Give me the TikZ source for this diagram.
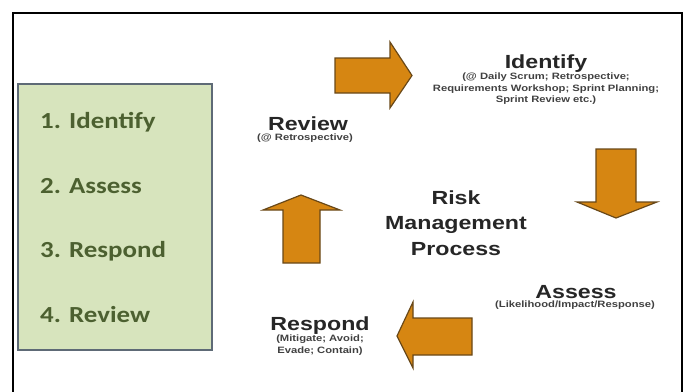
\documentclass[tikz,border=0pt]{standalone}
\usepackage{fontspec}
\usepackage{tikz}
\usetikzlibrary{positioning}
\setmainfont{Liberation Sans}
\newfontfamily\stepsfont[FakeStretch=1.17]{Carlito}
\newfontfamily\cyclefont[FakeStretch=1.22]{Liberation Sans}
\definecolor{stepfill}{RGB}{215, 228, 189}
\definecolor{stepborder}{RGB}{94, 106, 118}
\definecolor{stepgreen}{RGB}{76, 96, 48}
\definecolor{arroworange}{RGB}{214, 134, 18}
\definecolor{arrowbrown}{RGB}{105, 72, 24}

\begin{document}
\begin{tikzpicture}[x=1pt,y=-1pt,
    steptext/.style={font=\stepsfont\bfseries\fontsize{23}{23}\selectfont, text=stepgreen, anchor=base west, inner sep=0pt},
    phase/.style={font=\cyclefont\bfseries\fontsize{19}{19}\selectfont, text=black!85, anchor=base, inner sep=0pt},
    phasenote/.style={font=\cyclefont\bfseries\fontsize{9.2}{11.5}\selectfont, text=black!75, align=center, anchor=north, inner sep=0pt},
    blockarrow/.style={fill=arroworange, draw=arrowbrown, line width=1.2pt, line join=miter}]
    \useasboundingbox (0,0) rectangle (688,391);

    % Slide frame, open at the bottom
    \draw[line width=2pt] (13,395) -- (13,13) -- (682,13) -- (682,395);

    % Step list on the left
    \draw[stepborder, line width=2.5pt, fill=stepfill] (18,84) rectangle (212,350);
    \node[steptext] (step1) at (40,128) {1. Identify};
    \node[steptext] (step2) at (40,193) {2. Assess};
    \node[steptext] (step3) at (40,257) {3. Respond};
    \node[steptext] (step4) at (40,322) {4. Review};

    % Cycle labels
    \node[phase] (identify) at (546,68) {Identify};
    \node[phasenote] (identifynote) at (546,73) {(@ Daily Scrum; Retrospective;\\Requirements Workshop; Sprint Planning;\\Sprint Review etc.)};
    \node[phase] (review) at (308,130) {Review};
    \node[phasenote] (reviewnote) at (305,134) {(@ Retrospective)};
    \node[phase] (assess) at (576,298) {Assess};
    \node[phasenote] (assessnote) at (575,301) {(Likelihood/Impact/Response)};
    \node[phase] (respond) at (320,330) {Respond};
    \node[phasenote] (respondnote) at (320,335) {(Mitigate; Avoid;\\Evade; Contain)};

    % Centre title (base sits on the last line)
    \node[phase, align=center, font=\cyclefont\bfseries\fontsize{19}{25.5}\selectfont] (process) at (456,255) {Risk\\Management\\Process};

    % Block arrows around the cycle
    \draw[blockarrow] (335,58) -- (390,58) -- (390,42) -- (412,75.5) -- (390,108) -- (390,93) -- (335,93) -- cycle;
    \draw[blockarrow] (596,149) -- (636,149) -- (636,202) -- (657,202) -- (616,218) -- (577,202) -- (596,202) -- cycle;
    \draw[blockarrow] (472,318) -- (472,355) -- (413,355) -- (413,368) -- (397,336) -- (413,302) -- (413,318) -- cycle;
    \draw[blockarrow] (283,263) -- (283,210) -- (263,210) -- (301,195) -- (340,210) -- (320,210) -- (320,263) -- cycle;
\end{tikzpicture}
\end{document}
